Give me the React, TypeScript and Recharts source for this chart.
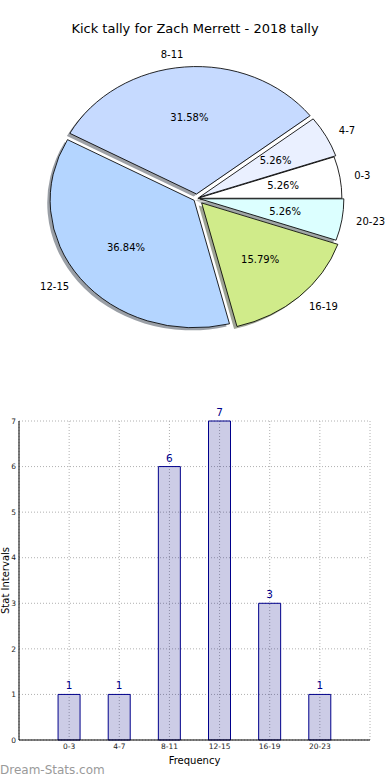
import { PieChart, Pie, Cell, BarChart, Bar, XAxis, YAxis, CartesianGrid, LabelList } from "recharts";

// data
const categories = ["0-3", "4-7", "8-11", "12-15", "16-19", "20-23"];
const kickCounts = [1, 1, 6, 7, 3, 1];
const yTicks = [0, 1, 2, 3, 4, 5, 6, 7];

const pieData = categories.map((name, i) => ({ name, value: kickCounts[i] }));
const barData = categories.map((name, i) => ({ pos: i, name, count: kickCounts[i] }));

// pie look
const SLICE_COLORS = ["#ffffff", "#eaf0ff", "#c6daff", "#b4d5ff", "#d0eb8a", "#dcffff"];
const SLICE_EXPLODE = [1, 3, 5, 3.5, 7, 3];
const PIE_CX = 196.9;
const PIE_CY = 198.4;
const PIE_R = 144;
const Y_SQUASH = 0.885;

const FONT = "'DejaVu Sans', sans-serif";

function darken(hex: string) {
  const n = parseInt(hex.slice(1), 16);
  const r = Math.round(((n >> 16) & 255) * 0.3);
  const g = Math.round(((n >> 8) & 255) * 0.3);
  const b = Math.round((n & 255) * 0.3);
  return `rgb(${r},${g},${b})`;
}

// mid angles, same convention as recharts (degrees, counter-clockwise from 3 o'clock)
const total = kickCounts.reduce((a, b) => a + b, 0);
const midAngles = kickCounts.map((v, i) => {
  const before = kickCounts.slice(0, i).reduce((a, b) => a + b, 0);
  return ((before + v / 2) / total) * 360;
});

const centers = midAngles.map((a, i) => {
  const rad = (a * Math.PI) / 180;
  return { x: PIE_CX + SLICE_EXPLODE[i] * Math.cos(rad), y: PIE_CY - SLICE_EXPLODE[i] * Math.sin(rad) };
});

const unsquash = (y: number) => `translate(0 ${y}) scale(1 ${1 / Y_SQUASH}) translate(0 ${-y})`;

const sliceLabel = (slice: number) => (p: any) => {
  if (p.index !== slice) return null;
  const mid = p.midAngle ?? midAngles[slice];
  const rad = (-mid * Math.PI) / 180;
  const cos = Math.cos(rad);
  const sin = Math.sin(rad);
  const c = centers[slice];
  const px = c.x + PIE_R * 0.6 * cos;
  const py = c.y + PIE_R * 0.6 * sin;
  const lx = c.x + PIE_R * 1.1 * cos;
  const ly = c.y + PIE_R * 1.1 * sin;
  return (
    <g>
      <text x={px} y={py} textAnchor="middle" dominantBaseline="central" fontSize={10} fill="#000" transform={unsquash(py)}>
        {(p.percent * 100).toFixed(2)}%
      </text>
      <text x={lx} y={ly} textAnchor={cos < 0 ? "end" : "start"} dominantBaseline="central" fontSize={10} fill="#000" transform={unsquash(ly)}>
        {categories[slice]}
      </text>
    </g>
  );
};

export default function App() {
  return (
    <div style={{ position: "absolute", left: 0, top: 0, width: 390, height: 780, background: "#fff", fontFamily: FONT, overflow: "hidden" }}>
      <div
        style={{
          position: "absolute",
          left: 0,
          top: 0,
          width: 390,
          height: 400,
          transform: `scaleY(${Y_SQUASH})`,
          transformOrigin: `${PIE_CX}px ${PIE_CY}px`,
        }}
      >
        <PieChart width={390} height={400} margin={{ top: 0, right: 0, bottom: 0, left: 0 }}>
          {/* shadows */}
          {categories.map((_, i) => (
            <Pie
              key={`shadow-${i}`}
              data={pieData}
              dataKey="value"
              nameKey="name"
              cx={centers[i].x - 2.9}
              cy={centers[i].y + 2.9}
              outerRadius={PIE_R}
              startAngle={0}
              endAngle={360}
              isAnimationActive={false}
              stroke="none"
            >
              {pieData.map((_, j) => (
                <Cell key={j} fill={j === i ? darken(SLICE_COLORS[i]) : "none"} fillOpacity={0.5} stroke="none" />
              ))}
            </Pie>
          ))}
          {/* slices */}
          {categories.map((_, i) => (
            <Pie
              key={`slice-${i}`}
              data={pieData}
              dataKey="value"
              nameKey="name"
              cx={centers[i].x}
              cy={centers[i].y}
              outerRadius={PIE_R}
              startAngle={0}
              endAngle={360}
              isAnimationActive={false}
              label={sliceLabel(i)}
              labelLine={false}
            >
              {pieData.map((_, j) => (
                <Cell
                  key={j}
                  fill={j === i ? SLICE_COLORS[i] : "none"}
                  stroke={j === i ? "#000" : "none"}
                  strokeWidth={0.9}
                />
              ))}
            </Pie>
          ))}
        </PieChart>
      </div>

      <div style={{ position: "absolute", left: 0, top: 21, width: 390, textAlign: "center", fontSize: 13, lineHeight: "16px", color: "#000" }}>
        Kick tally for Zach Merrett - 2018 tally
      </div>

      <div style={{ position: "absolute", left: 0, top: 400 }}>
        <BarChart width={390} height={380} data={barData} margin={{ top: 21, right: 20, bottom: 15, left: 0 }}>
          <CartesianGrid stroke="#b0b0b0" strokeDasharray="1 2" />
          <XAxis
            dataKey="pos"
            type="number"
            domain={[-1, 6]}
            ticks={[0, 1, 2, 3, 4, 5]}
            interval={0}
            tickFormatter={(v: number) => categories[v]}
            height={25}
            axisLine={{ stroke: "#000" }}
            tickLine={false}
            tickSize={0}
            tickMargin={4}
            tick={{ fontSize: 7.5, fill: "#222" }}
            label={{ value: "Frequency", position: "insideBottom", offset: 1, fontSize: 10, fill: "#000" }}
          />
          <XAxis
            xAxisId="top"
            orientation="top"
            dataKey="pos"
            type="number"
            domain={[-1, 6]}
            tick={false}
            tickLine={false}
            height={0}
            axisLine={{ stroke: "#000" }}
          />
          <YAxis
            domain={[0, 7]}
            ticks={yTicks}
            interval={0}
            width={19}
            axisLine={{ stroke: "#000" }}
            tickLine={false}
            tickSize={0}
            tickMargin={3}
            tick={{ fontSize: 7.5, fill: "#222" }}
            label={{ value: "Stat Intervals", angle: -90, position: "insideLeft", offset: 5, fontSize: 10, fill: "#000", style: { textAnchor: "middle" } }}
          />
          <YAxis
            yAxisId="right"
            orientation="right"
            domain={[0, 7]}
            tick={false}
            tickLine={false}
            width={0}
            axisLine={{ stroke: "#000" }}
          />
          <Bar dataKey="count" fill="#000080" fillOpacity={0.2} stroke="#00008b" strokeWidth={1} barSize={22} isAnimationActive={false}>
            <LabelList dataKey="count" position="top" offset={5} fill="#00008b" fontSize={10.5} />
          </Bar>
        </BarChart>
      </div>

      <div style={{ position: "absolute", left: 0, top: 763, fontSize: 12, lineHeight: "14px", color: "#9a9a9a" }}>
        Dream-Stats.com
      </div>
    </div>
  );
}
